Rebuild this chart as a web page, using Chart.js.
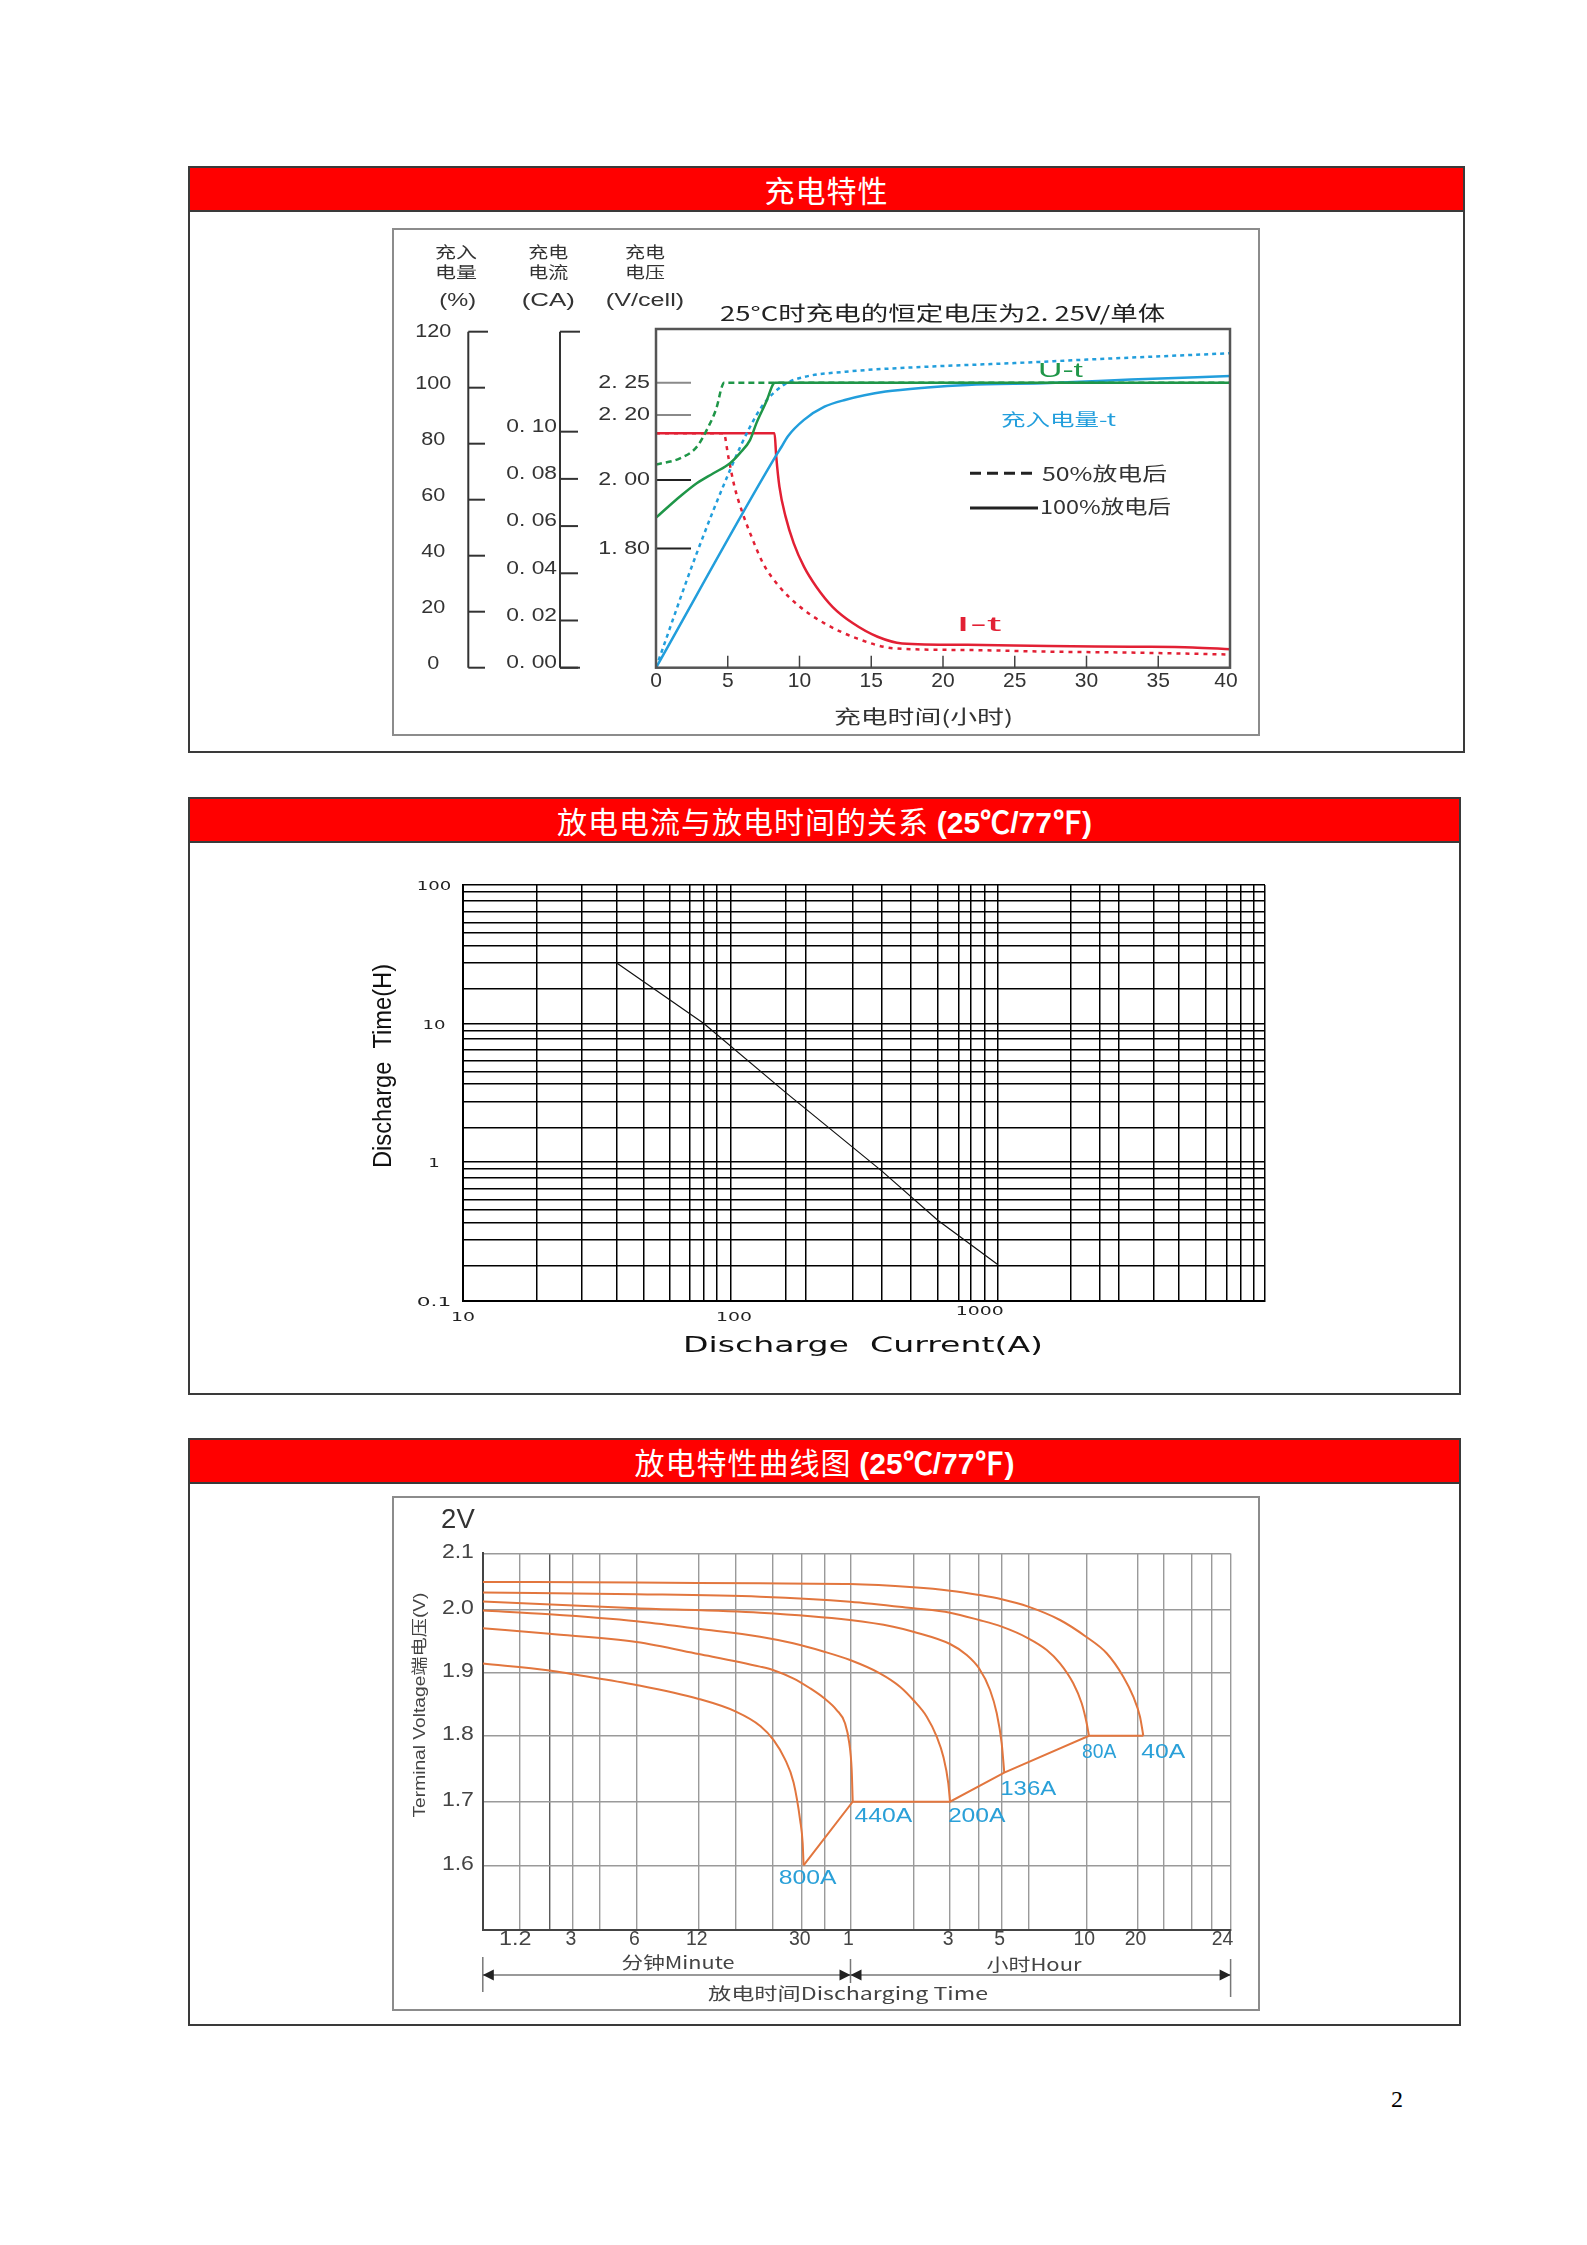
<!DOCTYPE html>
<html lang="zh-CN">
<head>
<meta charset="utf-8">
<title>充电特性 / 放电特性</title>
<script src="https://cdn.jsdelivr.net/npm/chart.js"></script>
<style>
  html, body { margin: 0; padding: 0; background: #fff; }
  body { position: relative; width: 1587px; height: 2245px; overflow: hidden; font-family: "Noto Sans CJK SC", sans-serif; }
  .sec { position: absolute; left: 188px; border: 2px solid #3a3a3a; box-sizing: border-box; }
  .bar { height: 42px; line-height: 42px; background: #ff0000; border-bottom: 2px solid #3a3a3a; color: #fff;
         text-align: center; font-size: 30px; white-space: nowrap; letter-spacing: 1px; }
  .bar b { font-family: "Liberation Sans", Arial, sans-serif; font-weight: bold; letter-spacing: 0; }
  .frame { position: absolute; border: 2px solid #8c8c8c; box-sizing: border-box; }
  canvas { position: absolute; }
  #pg { position: absolute; left: 1391px; top: 2087px; font: 24px "Liberation Serif", serif; line-height: 24px; }
</style>
</head>
<body>
<div class="sec" style="top:166px;width:1277px;height:587px"><div class="bar">充电特性</div></div>
<div class="sec" style="top:797px;width:1273px;height:598px"><div class="bar">放电电流与放电时间的关系 <b>(25℃/77℉)</b></div></div>
<div class="sec" style="top:1438px;width:1273px;height:588px"><div class="bar">放电特性曲线图 <b>(25℃/77℉)</b></div></div>
<div class="frame" style="left:392px;top:228px;width:868px;height:508px"></div>
<div class="frame" style="left:392px;top:1496px;width:868px;height:515px"></div>
<canvas id="c1" width="868" height="508" style="left:392px;top:228px"></canvas>
<canvas id="c2" width="1273" height="553" style="left:188px;top:842px"></canvas>
<canvas id="c3" width="868" height="515" style="left:392px;top:1496px"></canvas>
<div id="pg">2</div>

<script>
// ---------- 充电特性 (charging) ----------
const CHG_TIME_TICKS = [0, 5, 10, 15, 20, 25, 30, 35, 40];
const PCT_TICKS = [0, 20, 40, 60, 80, 100, 120];
const CA_TICKS = [0, 0.02, 0.04, 0.06, 0.08, 0.10];
const VOLT_TICKS = [1.80, 2.00, 2.20, 2.25];

// I-t, charge current (CA)
const I100_T  = [0, 8.26, 8.38, 8.6, 9.03, 9.6, 10.31, 11.17, 12.3, 13.73, 15.44, 17.15, 21.7, 27.4, 33.1, 37.4, 40];
const I100_CA = [0.0993, 0.0993, 0.0894, 0.0767, 0.064, 0.0527, 0.0428, 0.0343, 0.0258, 0.0188, 0.0131, 0.0103, 0.0097, 0.0092, 0.0089, 0.0086, 0.0078];
const I50_T   = [0, 4.72, 5.04, 5.47, 6.04, 6.75, 7.46, 8.6, 10.03, 11.74, 14.0, 16.6, 21.7, 27.4, 33.1, 40];
const I50_CA  = [0.0993, 0.0993, 0.0894, 0.0767, 0.0654, 0.0541, 0.0442, 0.0343, 0.0258, 0.0188, 0.0124, 0.0082, 0.0075, 0.0068, 0.0064, 0.0056];

// 充入电量-t, charged capacity (%)
const Q100_T = [0, 8.32, 8.75, 9.17, 10.31, 11.74, 13.16, 16.0, 18.9, 21.7, 27.4, 33.1, 40];
const Q100_P = [0, 75.4, 78.9, 82.5, 88.5, 93.2, 95.6, 98.6, 100.1, 101.0, 101.7, 102.9, 104.2];
const Q50_T  = [0, 2.84, 5.16, 6.5, 7.48, 8.9, 10.3, 13.2, 18.9, 24.6, 30.3, 40];
const Q50_P  = [0, 40.9, 70.6, 85.5, 94, 101, 103.8, 105.7, 107.5, 108.7, 110.1, 112.3];

// U-t, charge voltage (V/cell)
const U100_T = [0, 1.67, 2.84, 4.0, 5.16, 5.85, 6.55, 7.0, 7.71, 8.17, 8.3, 40];
const U100_V = [1.890, 1.952, 1.991, 2.021, 2.052, 2.083, 2.123, 2.175, 2.222, 2.248, 2.25, 2.25];
const U50_T  = [0, 1.67, 2.84, 3.65, 4.23, 4.58, 4.74, 40];
const U50_V  = [2.048, 2.067, 2.102, 2.164, 2.212, 2.243, 2.25, 2.25];

// ---------- 放电电流与放电时间 (current vs time) ----------
const DT_GRID_A = [10, 18.8, 27.9, 37.5, 47.6, 59.2, 70.7, 79.6, 88.9, 100, 161.7, 190.8, 287.5, 369, 473, 597, 715, 792, 893,
                   1000, 1884, 2416, 2836, 3831, 4768, 6012, 7180, 8093, 9060, 10000];
const DT_GRID_H = [0.1, 0.178, 0.274, 0.365, 0.452, 0.537, 0.646, 0.772, 0.891, 1, 1.78, 2.74, 3.65, 4.52, 5.37, 6.46, 7.72, 8.91,
                   10, 17.8, 27.4, 36.5, 45.2, 53.7, 64.6, 77.2, 89.1, 100];
const DT_LABELS_A = [10, 100, 1000];
const DT_LABELS_H = [100, 10, 1, 0.1];
const DT_CURRENT = [37.6, 79.6, 161.7, 369, 597, 1000];
const DT_HOURS   = [27.4, 10, 3.16, 0.86, 0.38, 0.182];

// ---------- 放电特性曲线 (discharge curves), time in minutes ----------
const DC_GRID_MIN = [0.6, 1.2, 2, 3, 4, 6, 12, 16.7, 23.2, 30, 41.3, 60, 120, 180, 240, 300, 372.9, 600, 1200, 1263, 1334, 1389, 1440];
const DC_GRID_V = [1.5, 1.6, 1.7, 1.8, 1.9, 2.0, 2.1];
const DC_TICK_MIN = [1.2, 3, 6, 12, 30, 60, 180, 300, 600, 1200, 1440];
const DC_TICK_TXT = ['1.2', '3', '6', '12', '30', '1', '3', '5', '10', '20', '24'];
const DC_NAMES = ['800A', '440A', '200A', '136A', '80A', '40A'];
const DC_T = [
  [0.6, 2, 3, 6, 12, 16.7, 20.8, 23.4, 25.8, 27.9, 29.6, 30.4, 30.8],
  [0.6, 2, 6, 12, 20.7, 23.2, 27.8, 33.75, 41.3, 49.3, 55.5, 59, 60.8, 61.5],
  [0.6, 2, 6, 12, 20.7, 27.8, 41.3, 59.6, 83, 103.6, 120, 139.2, 155.4, 167.2, 176.6, 180],
  [0.6, 6, 20.7, 59.6, 96.2, 120, 180, 212.3, 239.8, 267.3, 285.7, 300, 306.4],
  [0.6, 6, 20.7, 59.6, 120, 180, 239.8, 300, 372.9, 433.8, 483.7, 539.2, 577.9, 603.3, 622],
  [0.6, 6, 20.7, 59.6, 120, 180, 239.8, 300, 372.9, 483.7, 598.8, 790.7, 990.2, 1133.6, 1205.9, 1213.7]
];
const DC_V = [
  [1.914, 1.903, 1.897, 1.880, 1.858, 1.838, 1.815, 1.793, 1.765, 1.729, 1.67, 1.635, 1.60],
  [1.970, 1.961, 1.948, 1.929, 1.909, 1.9037, 1.8905, 1.8748, 1.859, 1.8405, 1.8196, 1.7885, 1.748, 1.70],
  [1.998, 1.992, 1.981, 1.969, 1.9565, 1.946, 1.9327, 1.9195, 1.8984, 1.8773, 1.8563, 1.830, 1.7985, 1.7682, 1.7279, 1.70],
  [2.014, 2.002, 1.9946, 1.983, 1.9724, 1.9644, 1.9449, 1.9275, 1.9063, 1.8721, 1.8353, 1.7885, 1.744],
  [2.030, 2.027, 2.0225, 2.0136, 2.0018, 1.9946, 1.983, 1.9724, 1.954, 1.9354, 1.9143, 1.8827, 1.8511, 1.8196, 1.80],
  [2.049, 2.048, 2.0465, 2.0453, 2.0394, 2.0333, 2.0256, 2.0179, 2.0047, 1.983, 1.9565, 1.9302, 1.8931, 1.8615, 1.830, 1.80]
];
const DC_END_T = [30.8, 61.5, 180, 306.4, 622, 1213.7];
const DC_END_V = [1.60, 1.70, 1.70, 1.744, 1.80, 1.80];

// ---------- helpers ----------
const pts = (xs, ys) => xs.map((x, i) => ({ x: x, y: ys[i] }));

// linear scale whose value->pixel map is piecewise between anchor points (value, fraction)
class PiecewiseScale extends Chart.LinearScale {
  static id = 'piecewise';
  static defaults = {};
  _frac(v) {
    const a = this.options.anchors, f = this.options.logInterp ? Math.log : (u => u);
    let i = 1;
    while (i < a.length - 1 && v > a[i][0]) i++;
    const p = a[i - 1], q = a[i];
    return p[1] + (f(v) - f(p[0])) / (f(q[0]) - f(p[0])) * (q[1] - p[1]);
  }
  getPixelForValue(v) { return this.getPixelForDecimal(this._frac(v)); }
  getValueForPixel(px) {
    const d = this.getDecimalForPixel(px), a = this.options.anchors;
    let i = 1;
    while (i < a.length - 1 && d > a[i][1]) i++;
    const p = a[i - 1], q = a[i], r = (d - p[1]) / (q[1] - p[1]);
    return this.options.logInterp ? p[0] * Math.pow(q[0] / p[0], r) : p[0] + r * (q[0] - p[0]);
  }
}
Chart.register(PiecewiseScale);

function txt(ctx, s, x, y, w, font, color, align) {
  ctx.save();
  ctx.font = font;
  ctx.fillStyle = color || '#333';
  ctx.textBaseline = 'middle';
  ctx.textAlign = align || 'center';
  const k = w ? w / ctx.measureText(s).width : 1;
  ctx.translate(x, y);
  ctx.scale(k, 1);
  ctx.fillText(s, 0, 0);
  ctx.restore();
}
function vtxt(ctx, s, x, y, w, font, color) {
  ctx.save();
  ctx.translate(x, y);
  ctx.rotate(-Math.PI / 2);
  txt(ctx, s, 0, 0, w, font, color);
  ctx.restore();
}
function seg(ctx, x1, y1, x2, y2) {
  ctx.beginPath(); ctx.moveTo(x1, y1); ctx.lineTo(x2, y2); ctx.stroke();
}
function tri(ctx, x, y, dir) {
  ctx.beginPath(); ctx.moveTo(x, y); ctx.lineTo(x - dir * 11, y - 5.5); ctx.lineTo(x - dir * 11, y + 5.5); ctx.closePath(); ctx.fill();
}

const CJK = '"Noto Sans CJK SC"';
const SANS = '"Liberation Sans", Arial';
const RED = 'rgb(226,32,52)', GREEN = 'rgb(31,150,72)', BLUE = 'rgb(34,158,220)';
const base = {
  responsive: false, animation: false, events: [],
  plugins: { legend: { display: false }, tooltip: { enabled: false } },
  elements: { point: { radius: 0 } }
};

// ================= chart 1 =================
const O1 = [392, 228];
const deco1 = {
  id: 'deco1',
  beforeDatasetsDraw(c) {
    const ctx = c.ctx, s = c.scales;
    ctx.save();
    ctx.translate(-O1[0], -O1[1]);
    ctx.lineWidth = 2;
    VOLT_TICKS.forEach(v => {
      const y = s.yv.getPixelForValue(v) + O1[1];
      ctx.strokeStyle = v > 2.1 ? '#8a8a8a' : '#222';
      seg(ctx, 656, y, 691, y);
    });
    ctx.restore();
  },
  afterDraw(c) {
    const ctx = c.ctx, s = c.scales, a = c.chartArea;
    const X = t => s.x.getPixelForValue(t) + O1[0];
    const YP = p => s.y.getPixelForValue(p) + O1[1];
    const YC = v => s.yca.getPixelForValue(v) + O1[1];
    const YV = v => s.yv.getPixelForValue(v) + O1[1];
    const L = a.left + O1[0], R = a.right + O1[0], T = a.top + O1[1], B = a.bottom + O1[1];
    ctx.save();
    ctx.translate(-O1[0], -O1[1]);

    ctx.strokeStyle = '#555'; ctx.lineWidth = 2.5;
    ctx.strokeRect(L, T, R - L, B - T);

    // time axis
    ctx.strokeStyle = '#444'; ctx.lineWidth = 1.5;
    CHG_TIME_TICKS.forEach(t => {
      if (t > 0 && t < 40) seg(ctx, X(t), B, X(t), B - 12);
      txt(ctx, String(t), X(t) - (t === 40 ? 4 : 0), 681, null, '21px ' + SANS, '#333');
    });
    txt(ctx, '充电时间(小时)', 923.5, 717, 179, '19px ' + CJK, '#333');

    // % axis
    ctx.strokeStyle = '#333'; ctx.lineWidth = 2;
    seg(ctx, 468.3, YP(120), 468.3, YP(0));
    PCT_TICKS.forEach(p => {
      seg(ctx, 468.3, YP(p), p === 120 ? 488 : 485, YP(p));
      txt(ctx, String(p), 433.3, YP(p) - (p === 120 ? 0 : 3.5), String(p).length * 12, '19px ' + SANS, '#333');
    });
    // CA axis
    seg(ctx, 560, YP(120), 560, YC(0));
    seg(ctx, 560, YP(120), 580, YP(120));
    seg(ctx, 560, YC(0), 580, YC(0));
    CA_TICKS.forEach(v => {
      seg(ctx, 560, YC(v), 578, YC(v));
      txt(ctx, v.toFixed(2).replace('.', '. '), 557, YC(v) - 5, 50.7, '19px ' + SANS, '#333', 'right');
    });
    // voltage axis labels
    VOLT_TICKS.forEach(v => {
      txt(ctx, v.toFixed(2).replace('.', '. '), 650, YV(v), 51.7, '19px ' + SANS, '#333', 'right');
    });

    // column headers
    const hf = '16px ' + CJK;
    txt(ctx, '充入', 456, 252.3, 42, hf, '#333'); txt(ctx, '电量', 456, 271.7, 42, hf, '#333');
    txt(ctx, '(%)', 457.7, 300.7, 36.7, '18px ' + SANS, '#333');
    txt(ctx, '充电', 548.3, 252.3, 40, hf, '#333'); txt(ctx, '电流', 548.3, 271.7, 40, hf, '#333');
    txt(ctx, '(CA)', 548.3, 300.7, 53.3, '18px ' + SANS, '#333');
    txt(ctx, '充电', 645, 252.3, 40, hf, '#333'); txt(ctx, '电压', 645, 271.7, 40, hf, '#333');
    txt(ctx, '(V/cell)', 645, 300.7, 78.3, '18px ' + SANS, '#333');

    // title
    txt(ctx, '25°C时充电的恒定电压为2. 25V/单体', 942.6, 313.3, 445, '20px ' + CJK, '#222');

    // legend
    ctx.strokeStyle = '#222'; ctx.lineWidth = 3;
    ctx.setLineDash([11, 6]); seg(ctx, 970, 473.3, 1038, 473.3); ctx.setLineDash([]);
    seg(ctx, 970, 508, 1038, 508);
    txt(ctx, '50%放电后', 1042, 473.3, 125, '19px ' + CJK, '#333', 'left');
    txt(ctx, '100%放电后', 1040, 506.7, 131, '19px ' + CJK, '#333', 'left');

    // curve names
    txt(ctx, 'U-t', 1060.5, 371.7, 45, '20px ' + SANS, GREEN);
    txt(ctx, '充入电量-t', 1058.5, 420, 115, '17px ' + CJK, BLUE);
    txt(ctx, 'I-t', 978.5, 625, 45, '20px ' + SANS, RED);
    ctx.restore();
  }
};

new Chart(document.getElementById('c1'), {
  type: 'line',
  data: {
    datasets: [
      { data: pts(U50_T, U50_V), yAxisID: 'yv', borderColor: GREEN, borderDash: [6, 4] },
      { data: pts(U100_T, U100_V), yAxisID: 'yv', borderColor: GREEN },
      { data: pts(Q50_T, Q50_P), yAxisID: 'y', borderColor: BLUE, borderDash: [4, 4] },
      { data: pts(Q100_T, Q100_P), yAxisID: 'y', borderColor: BLUE },
      { data: pts(I50_T, I50_CA), yAxisID: 'yca', borderColor: RED, borderDash: [4, 5] },
      { data: pts(I100_T, I100_CA), yAxisID: 'yca', borderColor: RED }
    ]
  },
  options: Object.assign({}, base, {
    layout: { padding: { left: 264, right: 30, top: 101, bottom: 68.3 } },
    elements: { point: { radius: 0 }, line: { borderWidth: 2.5, cubicInterpolationMode: 'monotone', fill: false } },
    scales: {
      x: { type: 'linear', min: 0, max: 40, display: false },
      y: { type: 'linear', min: 0, max: 120.96, display: false },
      yca: { type: 'linear', min: 0, max: 0.1435, display: false },
      yv: { type: 'piecewise', min: 1.45, max: 2.333, display: false,
            anchors: [[1.4508, 0], [1.80, 0.3522], [2.00, 0.5539], [2.20, 0.7461], [2.25, 0.8416], [2.333, 1]] }
    }
  }),
  plugins: [deco1]
});

// ================= chart 2 =================
const O2 = [188, 842];
const deco2 = {
  id: 'deco2',
  afterDraw(c) {
    const ctx = c.ctx, s = c.scales;
    const X = v => s.x.getPixelForValue(v) + O2[0];
    const Y = v => s.y.getPixelForValue(v) + O2[1];
    ctx.save();
    ctx.translate(-O2[0], -O2[1]);
    const lf = '13px "DejaVu Sans"';
    DT_LABELS_H.forEach(v => {
      const t = String(v);
      txt(ctx, t, 434, Y(v) + 2, t.length * 11.5, lf, '#222');
    });
    const dx = [0, 3.6, -18], yy = [1317.6, 1317.6, 1311.7];
    DT_LABELS_A.forEach((v, i) => {
      const t = String(v);
      txt(ctx, t, X(v) + dx[i], yy[i], t.length * 12, lf, '#222');
    });
    vtxt(ctx, 'Discharge  Time(H)', 384, 1066, 204, '26px "Liberation Sans Narrow", "Liberation Sans"', '#111');
    txt(ctx, 'Discharge  Current(A)', 863, 1346, 360, '22px "DejaVu Sans"', '#111');
    ctx.restore();
  }
};

new Chart(document.getElementById('c2'), {
  type: 'line',
  data: { datasets: [{ data: pts(DT_CURRENT, DT_HOURS), borderColor: '#111', borderWidth: 1.2, tension: 0 }] },
  options: Object.assign({}, base, {
    layout: { padding: { left: 275, right: 196, top: 43, bottom: 94.4 } },
    scales: {
      x: { type: 'logarithmic', min: 10, max: 10000,
           ticks: { display: false, autoSkip: false },
           grid: { color: '#000', lineWidth: 1.5, drawTicks: false },
           border: { color: '#000', width: 2 },
           afterBuildTicks: sc => { sc.ticks = DT_GRID_A.map(v => ({ value: v })); } },
      y: { type: 'logarithmic', min: 0.1, max: 100,
           ticks: { display: false, autoSkip: false },
           grid: { color: '#000', lineWidth: 1.5, drawTicks: false },
           border: { color: '#000', width: 2 },
           afterBuildTicks: sc => { sc.ticks = DT_GRID_H.map(v => ({ value: v })); } }
    }
  }),
  plugins: [deco2]
});

// ================= chart 3 =================
const O3 = [392, 1496];
const ORANGE = 'rgb(226,118,62)', LBLUE = 'rgb(42,160,216)';
const deco3 = {
  id: 'deco3',
  afterDraw(c) {
    const ctx = c.ctx, s = c.scales, a = c.chartArea;
    const X = v => s.x.getPixelForValue(v) + O3[0];
    const Y = v => s.y.getPixelForValue(v) + O3[1];
    const L = a.left + O3[0], R = a.right + O3[0];
    ctx.save();
    ctx.translate(-O3[0], -O3[1]);

    txt(ctx, '2V', 457.9, 1520.8, 33.6, '27px ' + SANS, '#333');
    DC_GRID_V.slice(1).forEach(v => {
      txt(ctx, v.toFixed(1), 457.9, Y(v) - 1, 32, '20px ' + SANS, '#444');
    });
    vtxt(ctx, 'Terminal Voltage端电压(V)', 420.5, 1705, 225, '16px ' + SANS + ', ' + CJK, '#444');

    DC_TICK_MIN.forEach((t, i) => {
      const tx = DC_TICK_TXT[i];
      const off = i === 0 ? -5 : (i === DC_TICK_MIN.length - 1 ? -8 : -2);
      txt(ctx, tx, X(t) + off, 1939.7, tx.length * 10.8, '20px ' + SANS, '#444');
    });
    txt(ctx, '分钟Minute', 678, 1963, 113, '17px ' + CJK, '#444');
    txt(ctx, '小时Hour', 1034, 1964.6, 95, '17px ' + CJK, '#444');
    txt(ctx, '放电时间Discharging Time', 848, 1994, 280, '17px ' + CJK, '#444');

    // span arrows
    const ay = 1975, xm = X(60);
    ctx.strokeStyle = '#777'; ctx.lineWidth = 1.5;
    seg(ctx, L, ay, R, ay);
    seg(ctx, L, 1957, L, 1992);
    seg(ctx, xm, 1959, xm, 1983);
    seg(ctx, R, 1959, R, 1997);
    ctx.fillStyle = '#222';
    tri(ctx, L, ay, -1); tri(ctx, xm, ay, 1); tri(ctx, xm, ay, -1); tri(ctx, R, ay, 1);

    // end-current labels
    const off = [[4, 13], [30.6, 15], [26.7, 15], [24, 17.3], [10.3, 17], [20, 17]];
    const wid = [57.8, 57.7, 57.7, 56, 34.3, 44];
    DC_NAMES.forEach((n, i) => {
      txt(ctx, n, X(DC_END_T[i]) + off[i][0], Y(DC_END_V[i]) + off[i][1], wid[i], '20px ' + SANS, LBLUE);
    });
    ctx.restore();
  }
};

const dcSets = DC_T.map((t, i) => ({ data: pts(t, DC_V[i]), borderColor: ORANGE, borderWidth: 2, cubicInterpolationMode: 'monotone' }));
dcSets.push({ data: pts(DC_END_T, DC_END_V), borderColor: ORANGE, borderWidth: 2, tension: 0 });

new Chart(document.getElementById('c3'), {
  type: 'line',
  data: { datasets: dcSets },
  options: Object.assign({}, base, {
    layout: { padding: { left: 90.8, right: 29.4, top: 57.4, bottom: 81 } },
    scales: {
      x: { type: 'piecewise', min: 0.6, max: 1440, logInterp: true,
           anchors: [[0.6, 0], [1.2, 0.0500], [3, 0.1204], [6, 0.2055], [12, 0.2888], [30, 0.4265], [60, 0.4917],
                     [180, 0.6248], [300, 0.6939], [600, 0.8070], [1200, 0.8755], [1440, 1]],
           ticks: { display: false, autoSkip: false },
           grid: { color: ctx => (ctx.tick && ctx.tick.value === 2 ? '#5a5a5a' : '#9a9a9a'), lineWidth: 1.4, drawTicks: false },
           border: { color: '#444', width: 2 },
           afterBuildTicks: sc => { sc.ticks = DC_GRID_MIN.map(v => ({ value: v })); } },
      y: { type: 'piecewise', min: 1.5, max: 2.1,
           anchors: [[1.5, 0], [1.6, 0.1718], [1.7, 0.3407], [1.8, 0.5159], [1.9, 0.6843], [2.0, 0.8516], [2.1, 1]],
           ticks: { display: false, autoSkip: false },
           grid: { color: '#9a9a9a', lineWidth: 1.4, drawTicks: false },
           border: { color: '#444', width: 2 },
           afterBuildTicks: sc => { sc.ticks = DC_GRID_V.map(v => ({ value: v })); } }
    }
  }),
  plugins: [deco3]
});
</script>
</body>
</html>
